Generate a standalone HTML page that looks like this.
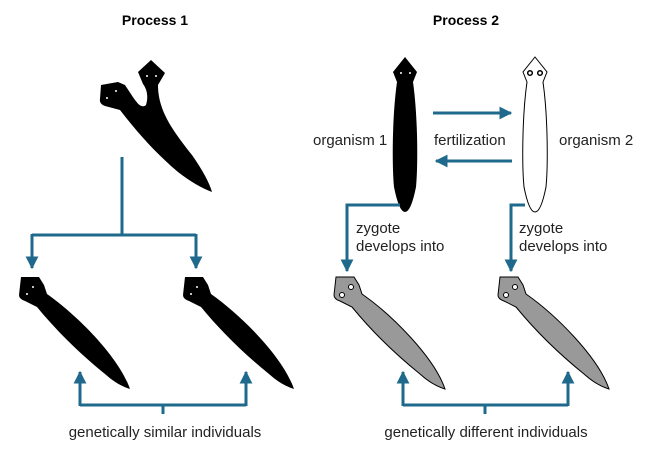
<!DOCTYPE html>
<html><head><style>body{margin:0;background:#fff}svg{display:block}</style></head><body>
<svg width="650" height="450" xmlns="http://www.w3.org/2000/svg" font-family="Liberation Sans, Arial, sans-serif">
<defs>
<path id="dw" d="M2,0 L20,0 L25,8 L28,17 C58,38 100,80 111,112 Q98,108 86,97 C60,76 36,52 18,30 L6,24 Q0,22 0,18 Z"/>
<path id="vw" d="M0,0 L12,15 L8,25 C13,60 13,110 11,130 Q6,155 0,155 Q-6,155 -11,130 C-13,110 -13,60 -8,25 L-12,15 Z"/>
<marker id="ah" viewBox="0 0 10 10" refX="9" refY="5" markerWidth="4.3" markerHeight="4.3" orient="auto"><path d="M0,0 L10,5 L0,10 Z" fill="#1f6a8c"/></marker>
</defs>
<text x="155" y="25" text-anchor="middle" font-weight="bold" font-size="14">Process 1</text>
<text x="466" y="25" text-anchor="middle" font-weight="bold" font-size="14">Process 2</text>

<!-- Process 1 top Y worm -->
<path d="M138,72 L151,60 L165,73 L158,85 C158,110 172,130 192,155 Q208,178 212,192 Q196,186 178,172 C152,150 134,128 120,110 L105,106 Q99,104 100,99 L101,85 L118,82 L125,85 C135,100 140,110 146,105 C149,95 146,88 143,84 Z" fill="#000"/>
<circle cx="147" cy="76" r="1" fill="#fff"/><circle cx="156" cy="76" r="1" fill="#fff"/>
<circle cx="107" cy="98" r="1" fill="#fff"/><circle cx="116" cy="91" r="1" fill="#fff"/>

<use href="#dw" transform="translate(19,277)" fill="#000"/>
<circle cx="27" cy="294" r="1" fill="#fff"/><circle cx="33" cy="287" r="1" fill="#fff"/>
<use href="#dw" transform="translate(183,277)" fill="#000"/>
<circle cx="191" cy="294" r="1" fill="#fff"/><circle cx="197" cy="287" r="1" fill="#fff"/>

<use href="#dw" transform="translate(334,277)" fill="#999" stroke="#000" stroke-width="1"/>
<circle cx="342" cy="295" r="2.5" fill="#fff" stroke="#000"/><circle cx="351" cy="287" r="2.5" fill="#fff" stroke="#000"/>
<use href="#dw" transform="translate(498,277)" fill="#999" stroke="#000" stroke-width="1"/>
<circle cx="506" cy="295" r="2.5" fill="#fff" stroke="#000"/><circle cx="515" cy="287" r="2.5" fill="#fff" stroke="#000"/>

<use href="#vw" transform="translate(405,57)" fill="#000"/>
<circle cx="401" cy="73" r="1" fill="#fff"/><circle cx="410" cy="73" r="1" fill="#fff"/>
<use href="#vw" transform="translate(535,57)" fill="#fff" stroke="#000" stroke-width="1"/>
<circle cx="530" cy="73" r="2.3" fill="#fff" stroke="#000" stroke-width="1.5"/><circle cx="540" cy="73" r="2.3" fill="#fff" stroke="#000" stroke-width="1.5"/>

<g stroke="#1f6a8c" stroke-width="3" fill="none">
<path d="M122,157 V235"/>
<path d="M32,235 H196"/>
<path d="M32,234 V268" marker-end="url(#ah)"/>
<path d="M196,234 V268" marker-end="url(#ah)"/>
<path d="M80,405 H246"/>
<path d="M80,406 V372" marker-end="url(#ah)"/>
<path d="M246,406 V372" marker-end="url(#ah)"/>
<path d="M163,405 V414"/>
<path d="M403,405 H568"/>
<path d="M403,406 V372" marker-end="url(#ah)"/>
<path d="M568,406 V372" marker-end="url(#ah)"/>
<path d="M485,405 V414"/>
<path d="M433,113 H511" marker-end="url(#ah)"/>
<path d="M512,161 H436" marker-end="url(#ah)"/>
<path d="M400,205 H347 V271" marker-end="url(#ah)"/>
<path d="M525,205 H511 V271" marker-end="url(#ah)"/>
</g>

<g font-size="15" fill="#222">
<text x="313" y="145">organism 1</text>
<text x="434" y="145">fertilization</text>
<text x="559" y="145">organism 2</text>
<text x="356" y="233">zygote</text>
<text x="356" y="251">develops into</text>
<text x="519" y="233">zygote</text>
<text x="519" y="251">develops into</text>
<text x="165" y="437" text-anchor="middle">genetically similar individuals</text>
<text x="486" y="437" text-anchor="middle">genetically different individuals</text>
</g>
</svg>
</body></html>
